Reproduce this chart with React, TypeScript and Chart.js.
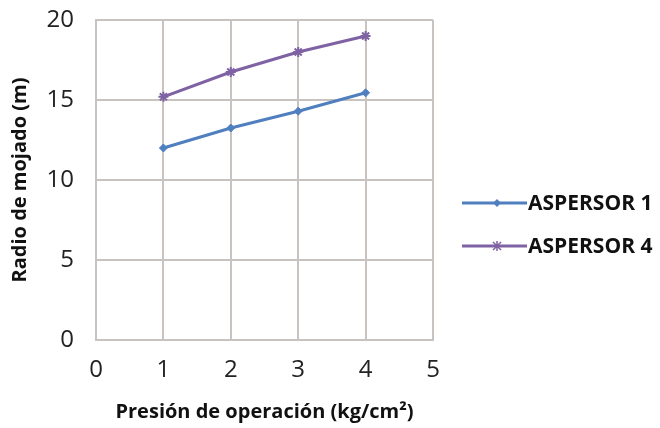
import React, { useEffect, useRef } from "react";
import { Chart, registerables } from "chart.js";

Chart.register(...registerables);

const pressures = [1, 2, 3, 4];
const aspersor1 = [12.0, 13.25, 14.3, 15.45];
const aspersor4 = [15.2, 16.75, 18.0, 19.0];
const seriesNames = ["ASPERSOR 1", "ASPERSOR 4"];
const seriesColors = ["#4f7fbf", "#7f62a3"];
const seriesMarkers = ["rectRot", "star"];
const xTicks = [0, 1, 2, 3, 4, 5];
const yTicks = [0, 5, 10, 15, 20];

const legendPlugin = {
  id: "customLegend",
  afterDraw(chart: any) {
    const ctx = chart.ctx;
    const rows = [203, 246];
    ctx.save();
    seriesNames.forEach((name, i) => {
      const y = rows[i];
      ctx.strokeStyle = seriesColors[i];
      ctx.lineWidth = 3;
      ctx.beginPath();
      ctx.moveTo(462, y);
      ctx.lineTo(527, y);
      ctx.stroke();
      ctx.fillStyle = seriesColors[i];
      if (i === 0) {
        ctx.beginPath();
        ctx.moveTo(497, y - 4);
        ctx.lineTo(501, y);
        ctx.lineTo(497, y + 4);
        ctx.lineTo(493, y);
        ctx.closePath();
        ctx.fill();
      } else {
        ctx.lineWidth = 1.5;
        ctx.beginPath();
        ctx.moveTo(493, y - 4);
        ctx.lineTo(501, y + 4);
        ctx.moveTo(501, y - 4);
        ctx.lineTo(493, y + 4);
        ctx.moveTo(497, y - 5);
        ctx.lineTo(497, y + 5);
        ctx.stroke();
      }
      ctx.fillStyle = "#111";
      ctx.font = "bold 21px 'Open Sans'";
      ctx.textBaseline = "middle";
      ctx.textAlign = "left";
      ctx.fillText(name, 528, y + 1);
    });
    ctx.restore();
  },
};

export default function App() {
  const ref = useRef<HTMLCanvasElement>(null);
  useEffect(() => {
    document.body.style.margin = "0";
    const chart = new Chart(ref.current!, {
      type: "line",
      data: {
        datasets: [
          {
            label: seriesNames[0],
            data: pressures.map((x, i) => ({ x, y: aspersor1[i] })),
            borderColor: seriesColors[0],
            backgroundColor: seriesColors[0],
            borderWidth: 3,
            pointStyle: seriesMarkers[0] as any,
            pointRadius: 4,
            pointBorderWidth: 1,
          },
          {
            label: seriesNames[1],
            data: pressures.map((x, i) => ({ x, y: aspersor4[i] })),
            borderColor: seriesColors[1],
            backgroundColor: seriesColors[1],
            borderWidth: 3,
            pointStyle: seriesMarkers[1] as any,
            pointRadius: 5,
            pointBorderWidth: 2,
          },
        ],
      },
      options: {
        animation: false,
        responsive: false,
        layout: { padding: { top: 20, right: 227, left: 0, bottom: 0 } },
        plugins: { legend: { display: false }, tooltip: { enabled: false } },
        scales: {
          x: {
            type: "linear",
            min: 0,
            max: 5,
            afterBuildTicks: (s: any) => {
              s.ticks = xTicks.map((v) => ({ value: v }));
            },
            afterFit: (s: any) => {
              s.height = 88;
              s.paddingLeft = 0;
              s.paddingRight = 0;
            },
            grid: { color: "#c9c3c0", lineWidth: 2, drawTicks: false },
            border: { color: "#c9c3c0", width: 2 },
            ticks: {
              color: "#222",
              font: { family: "'Open Sans'", size: 24 },
              padding: 16,
            },
            title: {
              display: true,
              text: "Presión de operación (kg/cm²)",
              color: "#111",
              font: { family: "'Open Sans'", size: 20, weight: "bold" },
              padding: { top: 2 },
            },
          },
          y: {
            min: 0,
            max: 20,
            afterBuildTicks: (s: any) => {
              s.ticks = yTicks.map((v) => ({ value: v }));
            },
            afterFit: (s: any) => {
              s.width = 96;
              s.paddingTop = 0;
              s.paddingBottom = 0;
            },
            grid: { color: "#c9c3c0", lineWidth: 2, drawTicks: false },
            border: { color: "#c9c3c0", width: 2 },
            ticks: {
              color: "#222",
              font: { family: "'Open Sans'", size: 24 },
              padding: 22,
            },
            title: {
              display: true,
              text: "Radio de mojado (m)",
              color: "#111",
              font: { family: "'Open Sans'", size: 20, weight: "bold" },
              padding: { top: 8, bottom: 0 },
            },
          },
        },
      },
      plugins: [legendPlugin],
    });
    return () => chart.destroy();
  }, []);
  return (
    <div style={{ position: "absolute", left: 0, top: 0, width: 660, height: 428, background: "#fff" }}>
      <canvas ref={ref} width={660} height={428} />
    </div>
  );
}
